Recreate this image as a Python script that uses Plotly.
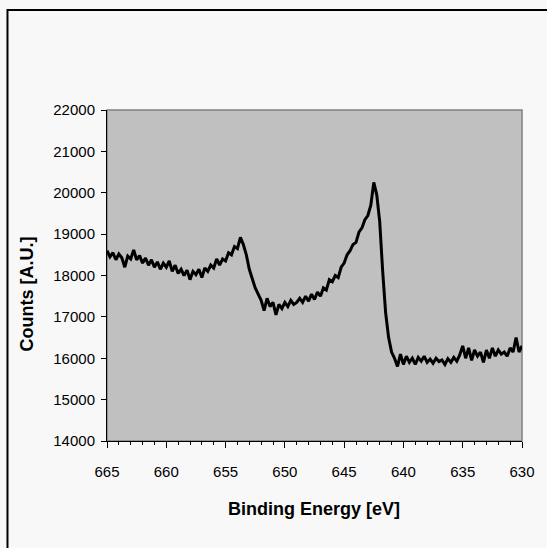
import numpy as np
import plotly.graph_objects as go

# binding energy grid, 665 -> 630 eV in 0.25 eV steps
energy = np.round(np.arange(665.0, 629.99, -0.25), 2)

counts = [
    18600, 18450, 18550, 18380, 18520, 18430, 18200, 18470, 18400, 18620,
    18380, 18480, 18300, 18420, 18250, 18380, 18200, 18330, 18150, 18300,
    18200, 18350, 18100, 18250, 18050, 18150, 18000, 18130, 17900, 18100,
    18020, 18150, 17950, 18180, 18100, 18250, 18180, 18400, 18250, 18400,
    18350, 18550, 18500, 18700, 18650, 18920, 18750, 18500, 18150, 17900,
    17700, 17550, 17400, 17150, 17450, 17250, 17350, 17050, 17300, 17200,
    17350, 17250, 17400, 17300, 17350, 17450, 17350, 17500, 17380, 17550,
    17420, 17600, 17500, 17700, 17650, 17900, 17850, 18000, 17950, 18200,
    18300, 18500, 18600, 18750, 18800, 19050, 19150, 19350, 19450, 19700,
    20250, 19950, 19300, 18100, 17100, 16500, 16150, 16000, 15800, 16100,
    15850, 16050, 15900, 16000, 15850, 16020, 15930, 16050, 15900, 15980,
    15880, 16000, 15920, 15960, 15850, 15990, 15900, 16020, 15930, 16080,
    16300, 16000, 16250, 15950, 16200, 16050, 16150, 15900, 16200, 16000,
    16250, 16050, 16200, 16100, 16150, 16050, 16250, 16150, 16500, 16150,
    16300,
]

x_ticks = [665, 660, 655, 650, 645, 640, 635, 630]
y_ticks = [14000, 15000, 16000, 17000, 18000, 19000, 20000, 21000, 22000]

FONT = "Liberation Sans, Arial, sans-serif"
W, H = 547, 548
L, R, T, B = 107, 23, 110, 107
PW, PH = W - L - R, H - T - B


def px_x(x):
    return (x - L) / PW


def px_y(y):
    return (H - B - y) / PH


fig = go.Figure()
fig.add_trace(go.Scatter(x=energy, y=counts, mode="lines",
                         line=dict(color="#000000", width=3), showlegend=False))

fig.update_layout(
    width=W, height=H,
    margin=dict(l=L, r=R, t=T, b=B),
    paper_bgcolor="#f8f8f8",
    plot_bgcolor="#c0c0c0",
    font=dict(family=FONT, size=15, color="#000000"),
    shapes=[
        # plot area frame
        dict(type="rect", xref="paper", yref="paper", x0=0, x1=1, y0=0, y1=1,
             line=dict(color="#808080", width=1.5), layer="below"),
        # outer chart frame (runs off the right/bottom of the picture)
        dict(type="rect", xref="paper", yref="paper", x0=px_x(7), x1=2, y0=-1, y1=px_y(10),
             line=dict(color="#000000", width=2)),
    ],
    annotations=[
        dict(text="<b>Binding Energy [eV]</b>", xref="paper", yref="paper",
             x=px_x(315), y=px_y(509), xanchor="center", yanchor="middle",
             showarrow=False, font=dict(size=18)),
        dict(text="<b>Counts [A.U.]</b>", xref="paper", yref="paper", textangle=-90,
             x=px_x(27), y=px_y(294), xanchor="center", yanchor="middle",
             showarrow=False, font=dict(size=18)),
    ],
)
fig.update_xaxes(
    range=[665, 630], tickvals=x_ticks, ticks="outside", ticklen=6, tickwidth=1,
    tickcolor="#000000", showline=True, linecolor="#000000", linewidth=1,
    showgrid=False, zeroline=False, ticklabelstandoff=11,
    minor=dict(dtick=1, ticks="outside", ticklen=3, tickcolor="#000000", showgrid=False),
)
fig.update_yaxes(
    range=[14000, 22000], tickvals=y_ticks, tickformat="d", ticks="outside", ticklen=5,
    tickwidth=1, tickcolor="#000000", showline=True, linecolor="#000000", linewidth=1,
    showgrid=False, zeroline=False, ticklabelstandoff=3,
)

fig.write_html("out.html", config={"displayModeBar": False},
               post_script="document.body.style.margin='0';")
